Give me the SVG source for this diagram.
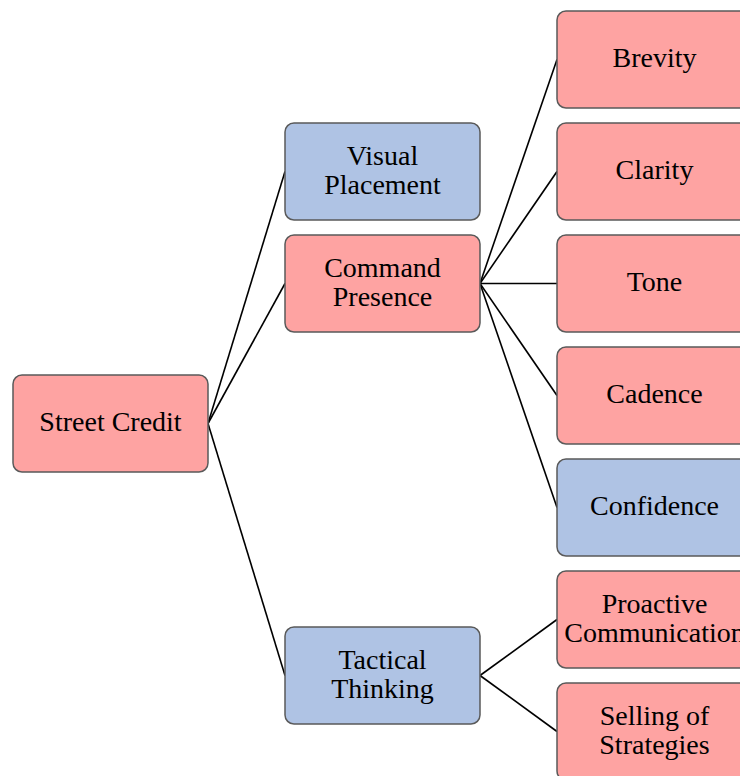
<svg xmlns="http://www.w3.org/2000/svg" width="740" height="776" viewBox="0 0 740 776">
  <style>
    .box { stroke: #5a5a5a; stroke-width: 1.5; }
    .red { fill: #fea3a2; }
    .blue { fill: #afc3e4; }
    .lbl { font-family: "Liberation Serif", "Times New Roman", serif; font-size: 28px; fill: #000; text-anchor: middle; }
    .edge { stroke: #000; stroke-width: 1.6; fill: none; }
  </style>
  <rect width="740" height="776" fill="#ffffff"/>

  <!-- connectors: right-middle of parent to left-middle of child -->
  <g id="connectors">
    <line class="edge" x1="208" y1="423.5" x2="285" y2="171.5"/>
    <line class="edge" x1="208" y1="423.5" x2="285" y2="283.5"/>
    <line class="edge" x1="208" y1="423.5" x2="285" y2="675.5"/>
    <line class="edge" x1="480" y1="283.5" x2="557" y2="59.5"/>
    <line class="edge" x1="480" y1="283.5" x2="557" y2="171.5"/>
    <line class="edge" x1="480" y1="283.5" x2="557" y2="283.5"/>
    <line class="edge" x1="480" y1="283.5" x2="557" y2="395.5"/>
    <line class="edge" x1="480" y1="283.5" x2="557" y2="507.5"/>
    <line class="edge" x1="480" y1="675.5" x2="557" y2="619.5"/>
    <line class="edge" x1="480" y1="675.5" x2="557" y2="731.5"/>
  </g>

  <g id="street-credit">
    <rect class="box red" x="13" y="375" width="195" height="97" rx="9"/>
    <text class="lbl" x="110.5" y="431">Street Credit</text>
  </g>

  <g id="visual-placement">
    <rect class="box blue" x="285" y="123" width="195" height="97" rx="9"/>
    <text class="lbl" x="382.5" y="165">Visual</text>
    <text class="lbl" x="382.5" y="194">Placement</text>
  </g>

  <g id="command-presence">
    <rect class="box red" x="285" y="235" width="195" height="97" rx="9"/>
    <text class="lbl" x="382.5" y="277">Command</text>
    <text class="lbl" x="382.5" y="306">Presence</text>
  </g>

  <g id="tactical-thinking">
    <rect class="box blue" x="285" y="627" width="195" height="97" rx="9"/>
    <text class="lbl" x="382.5" y="669">Tactical</text>
    <text class="lbl" x="382.5" y="698">Thinking</text>
  </g>

  <g id="brevity">
    <rect class="box red" x="557" y="11" width="195" height="97" rx="9"/>
    <text class="lbl" x="654.5" y="67">Brevity</text>
  </g>

  <g id="clarity">
    <rect class="box red" x="557" y="123" width="195" height="97" rx="9"/>
    <text class="lbl" x="654.5" y="179">Clarity</text>
  </g>

  <g id="tone">
    <rect class="box red" x="557" y="235" width="195" height="97" rx="9"/>
    <text class="lbl" x="654.5" y="291">Tone</text>
  </g>

  <g id="cadence">
    <rect class="box red" x="557" y="347" width="195" height="97" rx="9"/>
    <text class="lbl" x="654.5" y="403">Cadence</text>
  </g>

  <g id="confidence">
    <rect class="box blue" x="557" y="459" width="195" height="97" rx="9"/>
    <text class="lbl" x="654.5" y="515">Confidence</text>
  </g>

  <g id="proactive-communication">
    <rect class="box red" x="557" y="571" width="195" height="97" rx="9"/>
    <text class="lbl" x="654.5" y="613">Proactive</text>
    <text class="lbl" x="654.5" y="642">Communication</text>
  </g>

  <g id="selling-of-strategies">
    <rect class="box red" x="557" y="683" width="195" height="97" rx="9"/>
    <text class="lbl" x="654.5" y="725">Selling of</text>
    <text class="lbl" x="654.5" y="754">Strategies</text>
  </g>
</svg>
